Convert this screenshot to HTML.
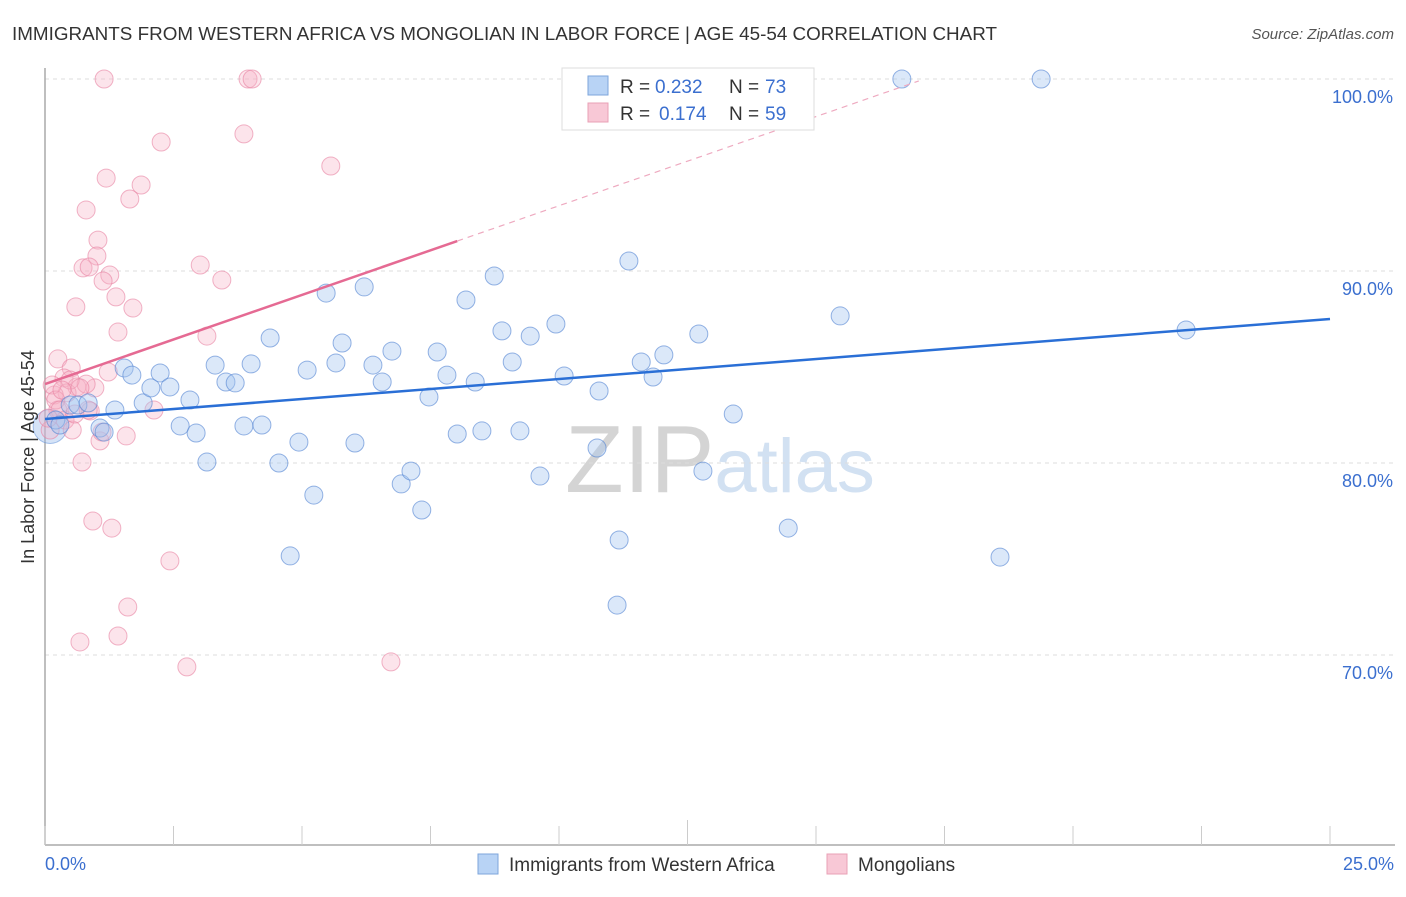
<!DOCTYPE html>
<html><head><meta charset="utf-8"><style>
body{margin:0;background:#fff;font-family:"Liberation Sans",sans-serif;}
svg text{font-family:"Liberation Sans",sans-serif;}
</style></head><body>
<svg id="chart" width="1406" height="892" xmlns="http://www.w3.org/2000/svg">
<text x="12" y="40" font-size="18" fill="#333" textLength="985" lengthAdjust="spacingAndGlyphs">IMMIGRANTS FROM WESTERN AFRICA VS MONGOLIAN IN LABOR FORCE | AGE 45-54 CORRELATION CHART</text>
<text x="1394" y="39" font-size="15" fill="#555" text-anchor="end" font-style="italic">Source: ZipAtlas.com</text>
<text x="720" y="492" font-size="96" text-anchor="middle" fill="#d8d8d8" font-family="Liberation Serif"><tspan fill="#d4d4d4">ZIP</tspan><tspan fill="#d2e1f2" font-family="Liberation Sans" font-size="76">atlas</tspan></text>
<g id="grid"></g>
<g id="axes"></g>
<g id="pts"></g>
<g id="trend"></g>
<text transform="translate(34,457) rotate(-90)" font-size="18" fill="#333" text-anchor="middle">In Labor Force | Age 45-54</text>
<text x="45" y="870" font-size="18" fill="#3b6fcf">0.0%</text>
<text x="1394" y="870" font-size="18" fill="#3b6fcf" text-anchor="end">25.0%</text>
<g>
<rect x="478" y="854" width="20" height="20" fill="#b8d3f5" stroke="#7ea6db"/>
<text x="509" y="871" font-size="19" fill="#333">Immigrants from Western Africa</text>
<rect x="827" y="854" width="20" height="20" fill="#f8c8d6" stroke="#e9a0b6"/>
<text x="858" y="871" font-size="19" fill="#333">Mongolians</text>
</g>
<g>
<rect x="562" y="68" width="252" height="62" fill="#fff" stroke="#ddd"/>
<rect x="588" y="76" width="20" height="19" fill="#b8d3f5" stroke="#7ea6db"/>
<text x="620" y="93" font-size="19" fill="#333">R =</text>
<text x="655" y="93" font-size="19" fill="#3b6fcf">0.232</text>
<text x="729" y="93" font-size="19" fill="#333">N =</text>
<text x="765" y="93" font-size="19" fill="#3b6fcf">73</text>
<rect x="588" y="103" width="20" height="19" fill="#f8c8d6" stroke="#e9a0b6"/>
<text x="620" y="120" font-size="19" fill="#333">R =</text>
<text x="659" y="120" font-size="19" fill="#3b6fcf">0.174</text>
<text x="729" y="120" font-size="19" fill="#333">N =</text>
<text x="765" y="120" font-size="19" fill="#3b6fcf">59</text>
</g>
</svg>
<script>
const blueX=[0.21,0.29,0.49,0.64,0.84,1.07,1.15,1.36,1.54,1.69,1.91,2.06,2.24,2.43,2.63,2.82,2.94,3.15,3.31,3.52,3.70,3.87,4.01,4.22,4.38,4.55,4.77,4.94,5.10,5.23,5.47,5.66,5.78,6.03,6.21,6.38,6.56,6.75,6.93,7.12,7.33,7.47,7.63,7.82,8.02,8.19,8.37,8.50,8.74,8.89,9.09,9.24,9.44,9.63,9.94,10.10,10.74,10.78,11.13,11.17,11.36,11.60,11.83,12.04,12.72,12.80,13.39,14.46,15.47,16.67,18.58,19.38,22.20];
const blueY=[82.24,81.98,83.02,83.02,83.13,81.82,81.61,82.76,84.95,84.58,83.13,83.91,84.69,83.96,81.93,83.28,81.56,80.05,85.10,84.22,84.17,81.93,85.16,81.98,86.51,80.00,75.16,81.09,84.84,78.33,88.85,85.21,86.25,81.04,89.17,85.10,84.22,85.83,78.91,79.58,77.55,83.44,85.78,84.58,81.51,88.49,84.22,81.67,89.74,86.88,85.26,81.67,86.61,79.32,87.24,84.53,80.78,83.75,72.60,75.99,90.52,85.26,84.48,85.63,86.72,79.58,82.55,76.61,87.66,100,75.10,100,86.93];
const pinkX=[1.15,3.95,4.03,2.26,3.87,5.56,1.19,1.87,1.65,0.80,1.03,1.01,0.74,0.86,1.26,1.13,3.02,3.44,1.38,0.60,1.71,1.42,3.15,0.25,0.51,1.23,0.37,0.62,0.97,0.80,0.43,0.18,0.14,0.25,0.88,0.39,0.53,1.07,1.58,2.12,0.72,0.93,1.30,2.43,1.61,1.42,0.68,2.76,6.73,0.10,0.21,0.29,0.06,0.58,0.84,1.11,0.49,0.68,0.33];
const pinkY=[100,100,100,96.72,97.14,95.47,94.84,94.48,93.75,93.18,91.61,90.78,90.16,90.21,89.79,89.48,90.31,89.53,88.65,88.13,88.07,86.82,86.61,85.42,84.95,84.74,84.43,83.96,83.91,84.11,83.65,83.54,84.06,82.76,82.71,82.24,81.72,81.15,81.41,82.76,80.05,76.98,76.61,74.90,72.50,70.99,70.68,69.38,69.64,81.72,83.28,82.76,82.34,82.55,82.76,81.61,84.32,83.91,83.80];
const yTicks=[100,90,80,70];
const yTickLabels=["100.0%","90.0%","80.0%","70.0%"];
const blueTrend=[0,82.29,25,87.5];
const pinkTrend=[0,84.11,8.02,91.56,17.0,99.9];

const NS="http://www.w3.org/2000/svg";
const sx=v=>45+v*51.4;
const sy=v=>79+(100-v)*19.2;
function mk(tag,attrs,parent){const e=document.createElementNS(NS,tag);for(const k in attrs)e.setAttribute(k,attrs[k]);parent.appendChild(e);return e;}
const grid=document.getElementById('grid'),axes=document.getElementById('axes'),pts=document.getElementById('pts'),trend=document.getElementById('trend');
yTicks.forEach((t,i)=>{
  const l=mk('line',{x1:45,x2:1395,y1:sy(t),y2:sy(t),stroke:'#ddd','stroke-dasharray':'4,4'},grid);
  
  
  const tx=mk('text',{x:1393,y:sy(t)+24,'font-size':18,fill:'#3b6fcf','text-anchor':'end'},grid);
  tx.textContent=yTickLabels[i];
  
  
});
const ya=mk('line',{x1:45,x2:45,y1:68,y2:845,stroke:'#aaa','stroke-width':1.5},axes);


const xa=mk('line',{x1:45,x2:1395,y1:845,y2:845,stroke:'#aaa','stroke-width':1.5},axes);


for(let i=0;i<=10;i++){
  const v=i*2.5;
  const t=mk('line',{x1:sx(v),x2:sx(v),y1:i==5?820:826,y2:845,stroke:'#ccc'},axes);
  
  
}
const big=mk('circle',{cx:sx(0.1),cy:sy(81.9),r:17,fill:'rgba(150,185,235,0.4)',stroke:'rgba(90,140,215,0.5)'},pts);


pinkX.forEach((x,i)=>{
  const c=mk('circle',{cx:sx(x),cy:sy(pinkY[i]),r:9,fill:'rgba(246,178,199,0.35)',stroke:'rgba(232,130,162,0.6)','stroke-width':1},pts);
  
  
});
blueX.forEach((x,i)=>{
  const c=mk('circle',{cx:sx(x),cy:sy(blueY[i]),r:9,fill:'rgba(165,197,240,0.4)',stroke:'rgba(80,130,210,0.6)','stroke-width':1},pts);
  
  
});
const bl=mk('line',{x1:sx(blueTrend[0]),y1:sy(blueTrend[1]),x2:sx(blueTrend[2]),y2:sy(blueTrend[3]),stroke:'#2a6fd6','stroke-width':2.5},trend);


const pl=mk('line',{x1:sx(pinkTrend[0]),y1:sy(pinkTrend[1]),x2:sx(pinkTrend[2]),y2:sy(pinkTrend[3]),stroke:'#e56a93','stroke-width':2.5},trend);


const pd=mk('line',{x1:sx(pinkTrend[2]),y1:sy(pinkTrend[3]),x2:sx(pinkTrend[4]),y2:sy(pinkTrend[5]),stroke:'#eeaac0','stroke-width':1.2,'stroke-dasharray':'6,5'},trend);


</script>
</body></html>
